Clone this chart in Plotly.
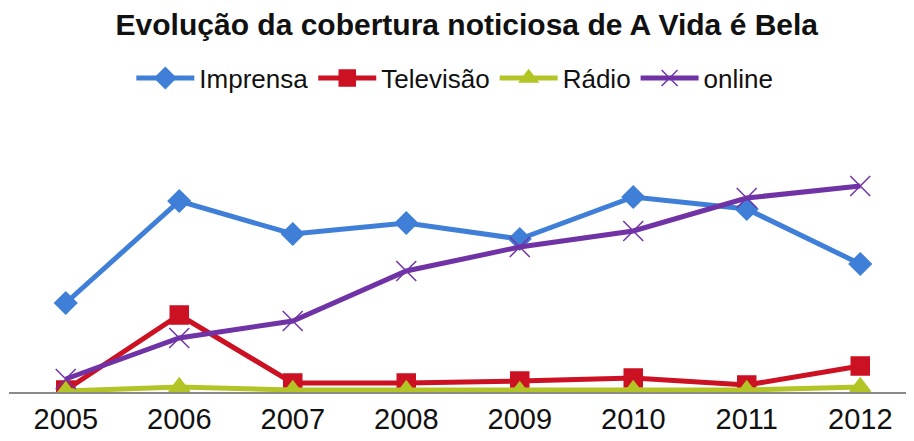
import plotly.graph_objects as go

years = ["2005", "2006", "2007", "2008", "2009", "2010", "2011", "2012"]
imprensa = [89, 191, 158, 169, 153, 195, 183, 128]
televisao = [2, 77, 9, 9, 11, 14, 7, 26]
radio = [1, 5, 2, 2, 1, 2, 2, 5]
online = [13, 54, 71, 121, 145, 161, 194, 206]

fig = go.Figure()
series = [
    ("Imprensa", imprensa, "#3f7fd8", "diamond", 17),
    ("Televisão", televisao, "#cc1122", "square", 18),
    ("Rádio", radio, "#b3c526", "triangle-up", 18),
    ("online", online, "#7033a6", "x-thin", 20),
]
for name, vals, color, sym, size in series:
    fig.add_trace(go.Scatter(
        x=years, y=vals, name=name, mode="lines+markers",
        line=dict(color=color, width=5),
        marker=dict(symbol=sym, size=size, color=color,
                    line=dict(color=color, width=1.5)),
    ))

fig.update_layout(
    width=914, height=441,
    paper_bgcolor="white", plot_bgcolor="white",
    margin=dict(l=1, r=5, t=164, b=57, autoexpand=False),
    title=dict(text="<b>Evolução da cobertura noticiosa de A Vida é Bela</b>",
               x=0.502, xanchor="center", y=0.962, yanchor="middle",
               font=dict(family="Liberation Sans, Arial", size=30, color="#111")),
    legend=dict(orientation="h", x=0.491, xanchor="center", y=1.427, yanchor="middle",
                font=dict(family="Liberation Sans, Arial", size=26, color="#111"),
                itemwidth=58, tracegroupgap=0, bgcolor="rgba(0,0,0,0)"),
    showlegend=True,
    font=dict(family="Liberation Sans, Arial"),
)
fig.update_xaxes(type="category", range=[-0.5, 7.5], showgrid=False,
                 showline=True, linecolor="#8a8a8a", linewidth=1.5,
                 ticks="", tickfont=dict(size=29, color="#111"),
                 zeroline=False)
fig.update_yaxes(range=[0, 220], showgrid=False, showticklabels=False,
                 zeroline=False, showline=False)

fig.write_html("out.html")
